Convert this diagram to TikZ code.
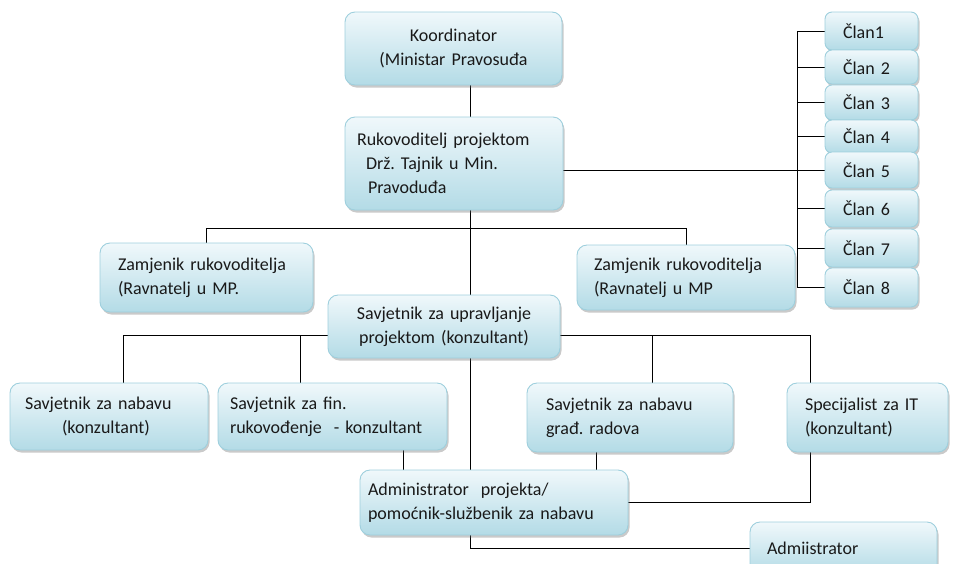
\documentclass[tikz,border=0pt]{standalone}
\usepackage{fontspec}
\setmainfont{Carlito}[WordSpace=0.6]
\usetikzlibrary{shadows}
\definecolor{boxtop}{HTML}{F0F8FB}
\definecolor{boxbot}{HTML}{B3DBE6}
\definecolor{boxedge}{HTML}{9ECFDD}
\pgfdeclarelayer{background}
\pgfsetlayers{background,main}
\frenchspacing
\tikzstyle{box}=[rectangle,rounded corners=10pt,draw=boxedge,line width=0.9pt,top color=boxtop,bottom color=boxbot,drop shadow={shadow xshift=1.5pt,shadow yshift=-2.5pt,opacity=0.35,fill=black!60},font=\fontsize{18}{24}\selectfont,text=black!90,inner ysep=2pt]
\tikzstyle{lbox}=[box,align=left]
\tikzstyle{cbox}=[box,align=center]
\tikzstyle{clan}=[box,rounded corners=7pt,text width=57pt,inner xsep=18pt,align=left]
\tikzstyle{orgline}=[line width=1.5pt,color=black!80]

\begin{document}
\begin{tikzpicture}[x=1pt,y=-1pt,orgline]
\useasboundingbox (0,0) rectangle (953,563);
\node[cbox,text width=193pt,inner xsep=12pt,minimum height=73pt] (K) at (453.5,48.5) {Koordinator\\(Ministar Pravosuđa};
\node[lbox,text width=194pt,inner xsep=12pt,minimum height=93pt] (R) at (454,163.5) {Rukovoditelj projektom\\\hspace*{9pt}Drž. Tajnik u Min.\\\hspace*{11pt}Pravoduđa};
\node[lbox,text width=177pt,inner xsep=18pt,minimum height=69pt] (Z1) at (206.5,277.5) {Zamjenik rukovoditelja\\(Ravnatelj u MP.};
\node[lbox,text width=184pt,inner xsep=17pt,minimum height=65pt] (Z2) at (686,277.5) {Zamjenik rukovoditelja\\(Ravnatelj u MP};
\node[cbox,text width=208pt,inner xsep=12pt,minimum height=63pt] (S) at (444,326.5) {Savjetnik za upravljanje\\projektom (konzultant)};
\node[lbox,text width=168pt,inner xsep=15pt,minimum height=67pt] (N) at (109,416.5) {Savjetnik za nabavu\\\hspace*{37pt}(konzultant)};
\node[lbox,text width=205pt,inner xsep=12pt,minimum height=67pt] (F) at (332.5,416.5) {Savjetnik za fin.\\rukovođenje \ - konzultant};
\node[lbox,text width=168pt,inner xsep=19pt,minimum height=69pt] (G) at (630,417.5) {Savjetnik za nabavu\\građ. radova};
\node[lbox,text width=125pt,inner xsep=18pt,minimum height=69pt] (IT) at (867.5,417.5) {Specijalist za IT\\(konzultant)};
\node[lbox,text width=252pt,inner xsep=8pt,minimum height=65pt] (A) at (494,502.5) {Administrator \ projekta/\\pomoćnik-službenik za nabavu};
\node[lbox,text width=153pt,inner xsep=17pt,minimum height=52pt] (AD) at (843.5,548) {Admiistrator};
\node[clan,minimum height=38pt] (C1) at (871.5,31) {Član1};
\node[clan,minimum height=34pt] (C2) at (871.5,67) {Član 2};
\node[clan,minimum height=35pt] (C3) at (871.5,102.5) {Član 3};
\node[clan,minimum height=33pt] (C4) at (871.5,136.5) {Član 4};
\node[clan,minimum height=36pt] (C5) at (871.5,170) {Član 5};
\node[clan,minimum height=37pt] (C6) at (871.5,208.5) {Član 6};
\node[clan,minimum height=38pt] (C7) at (871.5,248) {Član 7};
\node[clan,minimum height=39pt] (C8) at (871.5,287.5) {Član 8};
\coordinate (t) at (470,0);\coordinate (bus) at (797,0);\coordinate (h) at (0,228);
\coordinate (b1) at (123,335);\coordinate (b2) at (300,335);\coordinate (b3) at (652,335);\coordinate (b4) at (810,335);
\coordinate (f) at (403,0);\coordinate (g) at (596,0);
\begin{pgfonlayer}{background}
\draw(t|-K.south)--(t|-R.north);
\draw(R.east|-C5.west)--(C5.west);
\draw(bus|-C1.west)--(bus|-C8.west);
\draw(bus|-C1.west)--(C1.west);\draw(bus|-C2.west)--(C2.west);\draw(bus|-C3.west)--(C3.west);\draw(bus|-C4.west)--(C4.west);
\draw(bus|-C6.west)--(C6.west);\draw(bus|-C7.west)--(C7.west);\draw(bus|-C8.west)--(C8.west);
\draw(Z1.north|-h)--(Z2.north|-h);\draw(Z1.north|-h)--(Z1.north);\draw(Z2.north|-h)--(Z2.north);
\draw(t|-R.south)--(t|-S.north);
\draw(b1)--(b4);
\draw(b1)--(b1|-N.north);\draw(b2)--(b2|-F.north);\draw(b3)--(b3|-G.north);\draw(b4)--(b4|-IT.north);
\draw(t|-S.south)--(t|-A.north);
\draw(f|-F.south)--(f|-A.north);\draw(g|-G.south)--(g|-A.north);
\draw(b4|-IT.south)--(b4|-A.east)--(A.east);
\draw(t|-A.south)|-(AD.west);
\end{pgfonlayer}
\end{tikzpicture}
\end{document}
